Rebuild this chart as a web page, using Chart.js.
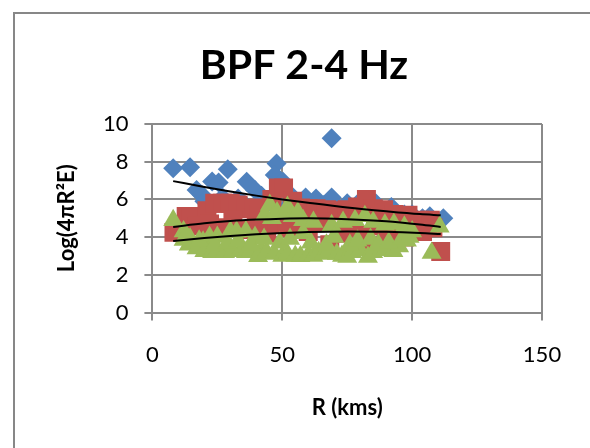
<!DOCTYPE html>
<html>
<head>
<meta charset="utf-8">
<script src="https://cdn.jsdelivr.net/npm/chart.js@4"></script>
<style>
  html, body { margin: 0; padding: 0; background: #fff; }
  #wrap { width: 590px; height: 448px; }
</style>
</head>
<body>
<div id="wrap"><canvas id="bpfChart" width="590" height="448"></canvas></div>
<script>
/**************** Data ****************/
const xTicks = [0, 50, 100, 150];
const yTicks = [0, 2, 4, 6, 8, 10];

// blue diamonds
const blueR = [8, 14.5, 29, 47.8, 69, 17, 19, 23, 25.5, 36.3, 39.5, 47.1, 50.3, 54, 59, 63, 69, 75, 80, 86, 92, 97, 106.8, 112,
  20, 27, 33, 35, 42, 45, 52, 57, 62, 66, 72, 78, 84, 90, 100, 104];
const blueLog = [7.65, 7.7, 7.6, 7.9, 9.25, 6.5, 6.25, 6.95, 6.9, 6.93, 6.5, 7.3, 6.93, 6.13, 6.1, 6.05, 6.1, 5.8, 5.9, 5.8, 5.6, 5.2, 5.1, 5.0,
  5.9, 6.1, 6.05, 5.8, 6.2, 5.9, 5.6, 5.8, 5.6, 5.7, 5.5, 5.4, 5.5, 5.3, 5.2, 5.0];

// red squares
const redR = [8.3, 10, 13, 15, 18, 21, 24, 27, 30, 33, 36, 39, 41, 46, 48.5, 50.5, 54, 57, 60, 63, 67, 71, 75, 79, 82.4, 85, 89, 93, 98.4, 103, 107, 111,
  12, 17, 22, 26, 31, 35, 40, 44, 48, 52, 56.8, 60, 65, 68.3, 72, 76, 81, 83.7, 86, 90, 94, 97, 100, 104, 108];
const redLog = [4.25, 4.6, 5.1, 5.05, 5.1, 5.4, 5.8, 5.8, 5.8, 5.7, 5.5, 5.55, 5.2, 6.0, 6.6, 6.6, 5.9, 5.55, 5.5, 5.5, 5.45, 5.4, 5.45, 5.6, 6.0, 5.5, 5.45, 5.2, 5.16, 4.9, 4.9, 3.24,
  4.4, 4.6, 4.7, 4.5, 4.9, 4.4, 4.6, 4.2, 4.7, 4.5, 4.7, 4.3, 4.8, 3.6, 4.2, 4.5, 4.1, 3.5, 4.6, 3.9, 4.4, 4.0, 4.7, 4.3, 4.5];

// green triangles
const greenR = [8, 12, 14.5, 19.5, 22, 25, 30, 32.4, 36, 39.5, 43.3, 45.2, 46, 48, 51.6, 52, 54, 56, 58, 62, 69, 73.4, 78, 81.8, 85, 89.5, 93, 97, 100, 110.6,
  12, 14, 17, 20, 23, 25, 28, 31, 34, 36, 38, 40.7, 42, 44, 47, 50, 52, 55, 57, 60, 62, 64, 66, 68, 71, 73, 75, 77, 80, 83, 85, 88, 90, 92.8, 95, 98, 107.5,
  13, 18, 24, 29, 33, 38, 43, 49, 53, 58, 61, 67, 70, 76, 79, 84, 87, 91, 96, 99];
const greenLog = [4.9, 4.3, 3.93, 3.75, 4.0, 4.0, 4.3, 4.28, 4.3, 4.0, 5.18, 5.7, 5.0, 5.3, 5.25, 5.6, 5.1, 5.3, 4.9, 4.8, 4.63, 4.8, 4.9, 5.1, 4.8, 4.65, 4.7, 4.55, 4.3, 4.55,
  3.85, 3.6, 3.4, 3.25, 3.2, 3.3, 3.2, 3.25, 3.3, 3.2, 3.3, 2.98, 3.3, 3.2, 3.1, 3.0, 3.1, 3.0, 2.98, 3.05, 3.0, 3.2, 3.1, 3.3, 3.1, 3.0, 2.95, 3.2, 3.3, 2.95, 3.2, 3.3, 3.4, 3.25, 3.5, 3.8, 3.16,
  4.1, 3.8, 3.6, 3.7, 3.8, 3.6, 3.9, 3.7, 3.9, 4.2, 3.7, 3.6, 4.0, 3.6, 3.8, 3.9, 3.6, 3.7, 3.9, 4.0];

// trend lines (read at a few distances)
const trendR = [8, 20, 30, 40, 50, 60, 75, 90, 103, 111];
const blueTrend = [6.97, 6.66, 6.42, 6.2, 6.0, 5.82, 5.57, 5.37, 5.22, 5.16];
const redTrend = [4.54, 4.73, 4.85, 4.93, 4.98, 5.0, 4.95, 4.84, 4.67, 4.54];
const greenTrend = [3.79, 3.95, 4.06, 4.15, 4.22, 4.27, 4.3, 4.28, 4.22, 4.16];

function toPoints(xs, ys) {
  return xs.map((x, i) => ({ x: x, y: ys[i] }));
}

function trendSet(values) {
  return {
    data: toPoints(trendR, values),
    showLine: true,
    borderColor: "#000000",
    borderWidth: 2,
    pointRadius: 0,
    cubicInterpolationMode: "monotone",
    order: 0,
  };
}

/**************** Frame and chart title ****************/
const frameTitle = {
  id: "frameTitle",
  beforeDraw: function (chart) {
    const ctx = chart.ctx;
    ctx.save();
    ctx.strokeStyle = "#878787";
    ctx.lineWidth = 2;
    ctx.beginPath();
    ctx.moveTo(14, 448);
    ctx.lineTo(14, 13);
    ctx.lineTo(590, 13);
    ctx.stroke();
    ctx.font = "bold 41px Lato";
    ctx.fillStyle = "#000000";
    ctx.textAlign = "center";
    ctx.textBaseline = "alphabetic";
    ctx.fillText("BPF 2-4 Hz", 304, 78.5);
    ctx.restore();
  },
};

const gridColor = "#8a8a8a";

new Chart(document.getElementById("bpfChart"), {
  type: "scatter",
  data: {
    datasets: [
      trendSet(blueTrend),
      trendSet(redTrend),
      trendSet(greenTrend),
      {
        data: toPoints(greenR, greenLog),
        pointStyle: "triangle",
        pointRadius: 11.5,
        backgroundColor: "#9BBB59",
        borderWidth: 0,
        order: 1,
      },
      {
        data: toPoints(redR, redLog),
        pointStyle: "rect",
        pointRadius: 13.4,
        backgroundColor: "#C0504D",
        borderWidth: 0,
        order: 2,
      },
      {
        data: toPoints(blueR, blueLog),
        pointStyle: "rectRot",
        pointRadius: 10,
        backgroundColor: "#4F81BD",
        borderWidth: 0,
        order: 3,
      },
    ],
  },
  plugins: [frameTitle],
  options: {
    responsive: false,
    animation: false,
    events: [],
    layout: {
      padding: { left: 14, right: 48, top: 124, bottom: 0 },
    },
    plugins: {
      legend: { display: false },
      title: { display: false },
      tooltip: { enabled: false },
    },
    scales: {
      x: {
        type: "linear",
        min: 0,
        max: 150,
        afterBuildTicks: (scale) => {
          scale.ticks = xTicks.map((v) => ({ value: v }));
        },
        afterFit: (scale) => {
          scale.height = 135.5;
        },
        ticks: {
          color: "#000000",
          padding: 21,
          font: { family: "Lato", size: 22 },
        },
        grid: { color: gridColor, lineWidth: 2, tickLength: 8 },
        border: { color: gridColor, width: 2 },
        title: {
          display: true,
          text: "R (kms)",
          color: "#000000",
          font: { family: "Lato", size: 22, weight: "bold" },
          padding: { top: 0, bottom: 27 },
        },
      },
      y: {
        type: "linear",
        min: 0,
        max: 10,
        afterBuildTicks: (scale) => {
          scale.ticks = yTicks.map((v) => ({ value: v }));
        },
        afterFit: (scale) => {
          scale.width = 138.4;
        },
        ticks: {
          color: "#000000",
          padding: 16,
          font: { family: "Lato", size: 22 },
        },
        grid: { color: gridColor, lineWidth: 2, tickLength: 8 },
        border: { color: gridColor, width: 2 },
        title: {
          display: true,
          text: "Log(4πR²E)",
          color: "#000000",
          font: { family: "Lato", size: 22, weight: "bold" },
          padding: { top: 40, bottom: 0 },
        },
      },
    },
  },
});
</script>
</body>
</html>
